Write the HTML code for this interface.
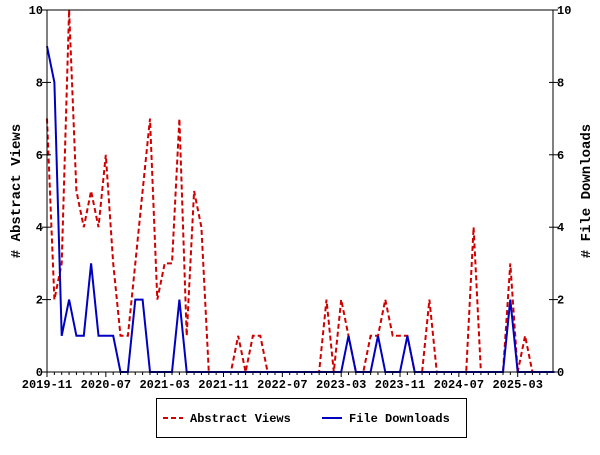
<!DOCTYPE html>
<html><head><meta charset="utf-8"><style>
body{margin:0;background:#fff}
svg text{font-family:"Liberation Mono","DejaVu Sans Mono",monospace;font-weight:bold;font-size:12px;fill:#000}
</style></head><body>
<svg id="chart" width="600" height="450" xmlns="http://www.w3.org/2000/svg">
<rect x="0" y="0" width="600" height="450" fill="#fff"/>
<g id="grid"></g>
<g id="series"></g>
<rect x="47" y="10" width="506" height="362" fill="none" stroke="#000" stroke-width="1"/>
<g id="axes"></g>
<text x="20" y="191" transform="rotate(-90 20 191)" text-anchor="middle" font-size="14" style="font-size:14px"># Abstract Views</text>
<text x="590" y="191" transform="rotate(-90 590 191)" text-anchor="middle" style="font-size:14px"># File Downloads</text>
<g>
<rect x="156.5" y="398.5" width="310" height="39" fill="#fff" stroke="#000"/>
<g>
<line x1="163" y1="418" x2="183" y2="418" stroke="#d00000" stroke-width="2" stroke-dasharray="5,3"/>
<text x="190" y="422">Abstract Views</text></g>
<g>
<line x1="322" y1="418" x2="342" y2="418" stroke="#0000c0" stroke-width="2"/>
<text x="349" y="422">File Downloads</text></g>
</g>
</svg>
<script>
const views = [7,2,3,10,5,4,5,4,6,3,1,1,3,5,7,2,3,3,7,1,5,4,0,0,0,0,1,0,1,1,0,0,0,0,0,0,0,0,2,0,2,1,0,0,1,1,2,1,1,1,0,0,2,0,0,0,0,0,4,0,0,0,0,3,0,1,0,0,0,0];
const downloads = [9,8,1,2,1,1,3,1,1,1,0,0,2,2,0,0,0,0,2,0,0,0,0,0,0,0,0,0,0,0,0,0,0,0,0,0,0,0,0,0,0,1,0,0,0,1,0,0,0,1,0,0,0,0,0,0,0,0,0,0,0,0,0,2,0,0,0,0,0,0];
const xTickLabels = ["2019-11","2020-07","2021-03","2021-11","2022-07","2023-03","2023-11","2024-07","2025-03"];
const yTicks = [0,2,4,6,8,10];

const NS="http://www.w3.org/2000/svg";
const X0=47,X1=553,Y0=372,Y1=10;
const N=views.length;
const step=(X1-X0)/(N-1.2);
function x(i){return X0+i*step;}
function y(v){return Y0-(v/10)*(Y0-Y1);}
function mk(t,a,p){const e=document.createElementNS(NS,t);for(const k in a)e.setAttribute(k,a[k]);p.appendChild(e);return e;}
const axes=document.getElementById('axes'),ser=document.getElementById('series');
// minor x ticks monthly
for(let i=0;i<N;i++){const xx=x(i);if(xx>X1)break;const major=i%8===0;
 const t=mk('line',{x1:xx,x2:xx,y1:Y0-(major?0:0),y2:Y0+(major?5:3),stroke:'#000'},axes);
 
 }
xTickLabels.forEach((lb,k)=>{const t=mk('text',{x:x(k*8),y:Y0+16,'text-anchor':'middle'},axes);t.textContent=lb;
 
 });
yTicks.forEach(v=>{const yy=y(v);
 const a=mk('line',{x1:X0-5,x2:X0+4,y1:yy,y2:yy,stroke:'#000'},axes);
 
 
 const b=mk('line',{x1:X1-4,x2:X1+5,y1:yy,y2:yy,stroke:'#000'},axes);
 
 
 const l=mk('text',{x:X0-4,y:yy+4,'text-anchor':'end'},axes);l.textContent=v;
 
 
 const r=mk('text',{x:X1+4,y:yy+4,'text-anchor':'start'},axes);r.textContent=v;
 
 });
function pts(arr){return arr.map((v,i)=>x(i).toFixed(1)+','+y(v).toFixed(1)).join(' ');}
const lv=mk('polyline',{points:pts(views),fill:'none',stroke:'#d00000','stroke-width':2,'stroke-dasharray':'5,3'},ser);


const ld=mk('polyline',{points:pts(downloads),fill:'none',stroke:'#0000c0','stroke-width':2},ser);


</script>
</body></html>
